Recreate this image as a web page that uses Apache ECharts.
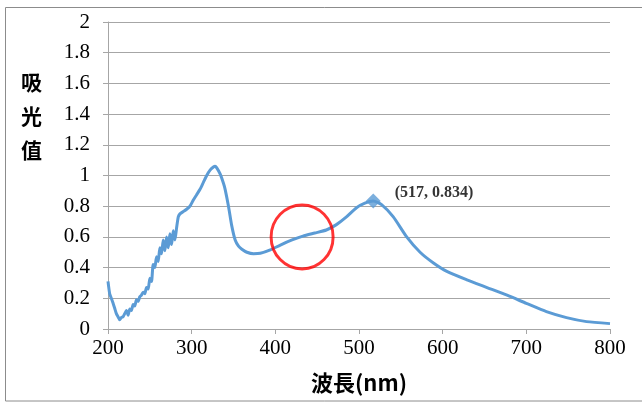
<!DOCTYPE html>
<html><head><meta charset="utf-8">
<script src="https://cdn.jsdelivr.net/npm/echarts@6/dist/echarts.min.js"></script>
<style>html,body{margin:0;padding:0;background:#fff}#c{width:642px;height:403px}</style>
</head><body><div id="c"></div>
<script>
// wavelength (nm)
const wavelengths = [200,202,204,206,208,210,212,214,216,218,220,222,224,226,228,230,232,234,236,238,240,242,244,246,248,250,252,254,256,258,260,262,264,266,268,270,272,274,276,278,280,282,284,286,290,294,298,302,306,310,314,318,322,326,328,330,334,338,340,344,348,352,356,360,366,374,382,394,406,420,433,447,461,473,485,497,507,517,527,541,557,573,589,605,629,653,677,700,724,748,772,800];
// absorbance
const absorbance = [0.31,0.23,0.20,0.17,0.135,0.10,0.08,0.06,0.075,0.08,0.10,0.12,0.09,0.13,0.12,0.16,0.15,0.19,0.18,0.21,0.22,0.24,0.23,0.27,0.26,0.33,0.31,0.42,0.40,0.47,0.44,0.53,0.49,0.58,0.51,0.60,0.53,0.62,0.55,0.64,0.58,0.66,0.73,0.75,0.765,0.78,0.80,0.84,0.875,0.91,0.955,1.00,1.035,1.055,1.06,1.05,1.01,0.95,0.91,0.80,0.67,0.58,0.54,0.52,0.50,0.49,0.493,0.515,0.547,0.58,0.605,0.625,0.645,0.68,0.73,0.79,0.82,0.834,0.81,0.73,0.60,0.50,0.43,0.375,0.32,0.27,0.22,0.167,0.113,0.074,0.048,0.035];
const xTicks = [200,300,400,500,600,700,800];
const yTicks = [0,0.2,0.4,0.6,0.8,1,1.2,1.4,1.6,1.8,2];
const peakPoint = [517, 0.834];
const peakLabel = "(517, 0.834)";
const circledRegion = [432, 0.6];
const xName = "波長(nm)";
const yName = "吸光值";

const chart = echarts.init(document.getElementById('c'));
const numFont = "'Liberation Serif','DejaVu Serif',serif";
const cjkFont = "'Noto Sans CJK TC','Noto Sans CJK SC',sans-serif";
chart.setOption({
  animation:false,
  backgroundColor:'#fff',
  grid:{left:108,right:32,top:22,bottom:74},
  title:{text:yName.split('').join('\n'),left:16,top:60,
    textStyle:{fontFamily:cjkFont,fontSize:21,fontWeight:'bold',color:'#000',lineHeight:34}},
  graphic:[{type:'rect',shape:{x:5.5,y:7.5,width:700,height:393.5},
    style:{fill:'none',stroke:'#8c8c8c',lineWidth:1},silent:true,z:100}],
  xAxis:{type:'value',min:xTicks[0],max:xTicks[xTicks.length-1],interval:100,
    name:xName,nameLocation:'middle',nameGap:43,
    nameTextStyle:{fontFamily:cjkFont,fontSize:22,fontWeight:'bold',color:'#000'},
    axisLine:{show:true,lineStyle:{color:'#a6a6a6',width:1}},
    axisTick:{show:true,length:5,lineStyle:{color:'#a6a6a6'}},
    axisLabel:{fontFamily:numFont,fontSize:21,color:'#000',margin:9},
    splitLine:{show:false}},
  yAxis:{type:'value',min:yTicks[0],max:yTicks[yTicks.length-1],interval:0.2,
    axisLine:{show:true,lineStyle:{color:'#a6a6a6',width:1}},
    axisTick:{show:true,length:5,lineStyle:{color:'#a6a6a6'}},
    axisLabel:{fontFamily:numFont,fontSize:21,color:'#000',margin:18,
      formatter:v=>String(Math.round(v*10)/10)},
    splitLine:{show:true,lineStyle:{color:'#a6a6a6',width:1}}},
  series:[
    {type:'line',data:wavelengths.map((w,i)=>[w,absorbance[i]]),showSymbol:false,
     smooth:0.2,lineStyle:{color:'#5b9bd5',width:3},itemStyle:{color:'#5b9bd5'},z:3},
    {type:'scatter',data:[peakPoint],symbol:'diamond',symbolSize:15,
     itemStyle:{color:'#5b9bd5'},z:4,
     label:{show:true,position:'right',distance:14,offset:[0,-8],formatter:peakLabel,
       fontFamily:numFont,fontSize:16,fontWeight:'bold',color:'#000'}},
    {type:'scatter',data:[circledRegion],symbol:'circle',symbolSize:[62,64],
     itemStyle:{color:'rgba(0,0,0,0)',borderColor:'#ff0000',borderWidth:3},z:5}
  ]
});
</script></body></html>
